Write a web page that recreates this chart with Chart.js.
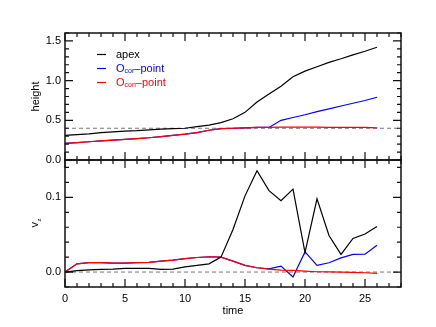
<!DOCTYPE html>
<html>
<head>
<meta charset="utf-8">
<script src="https://cdn.jsdelivr.net/npm/chart.js@4"></script>
<style>
  body { margin: 0; background: #fff; }
  #wrap { position: relative; width: 436px; height: 327px; }
  #wrap canvas { position: absolute; left: 0; top: 0; }
</style>
</head>
<body>
<div id="wrap">
  <canvas id="topChart" width="436" height="327"></canvas>
  <canvas id="bottomChart" width="436" height="327"></canvas>
</div>
<script>
// time steps
const times = [0,1,2,3,4,5,6,7,8,9,10,11,12,13,14,15,16,17,18,19,20,21,22,23,24,25,26];

// top panel: height
const apexHeight = [0.31,0.32,0.33,0.345,0.355,0.365,0.37,0.38,0.39,0.395,0.40,0.42,0.44,0.47,0.52,0.60,0.73,0.83,0.93,1.05,1.12,1.175,1.23,1.275,1.325,1.37,1.42];
const corHeight  = [0.21,0.22,0.23,0.24,0.25,0.26,0.27,0.28,0.295,0.31,0.325,0.345,0.375,0.395,0.40,0.405,0.41,0.41,0.50,0.535,0.57,0.61,0.645,0.68,0.715,0.75,0.79];
const conHeight  = [0.21,0.22,0.23,0.24,0.25,0.26,0.27,0.28,0.295,0.31,0.325,0.345,0.375,0.395,0.40,0.405,0.41,0.41,0.415,0.415,0.415,0.415,0.41,0.41,0.41,0.41,0.405];
const refHeight = 0.40;

// bottom panel: v_z
const apexVz = [0,0.002,0.003,0.0035,0.004,0.005,0.005,0.005,0.0035,0.004,0.007,0.009,0.011,0.020,0.057,0.102,0.1356,0.109,0.0956,0.111,0.026,0.098,0.049,0.0236,0.045,0.051,0.061];
const corVz  = [0,0.011,0.0125,0.0125,0.012,0.012,0.0125,0.013,0.0147,0.016,0.018,0.0195,0.0205,0.020,0.0147,0.0089,0.0058,0.0044,0.008,-0.0067,0.027,0.0089,0.0124,0.019,0.0236,0.024,0.036];
const conVz  = [0,0.011,0.0125,0.0125,0.012,0.012,0.0125,0.013,0.0147,0.016,0.018,0.0195,0.0205,0.020,0.0147,0.0089,0.0058,0.004,0.0027,0.0022,0.0013,0.0004,0.0003,0,-0.0004,-0.0009,-0.0018];
const refVz = 0;

const xRange = [0, 28];

const FONT = 'Liberation Sans, Arial, Helvetica, sans-serif';

function pts(ys) {
  return ys.map((y, i) => ({ x: times[i], y: y }));
}

// lower order is drawn on top
function series(ys, color, order) {
  return { data: pts(ys), borderColor: color, borderWidth: 1.2, pointRadius: 0, fill: false, tension: 0, order: order };
}

function refLine(y) {
  return {
    data: [{ x: xRange[0], y: y }, { x: xRange[1], y: y }],
    borderColor: '#777', borderWidth: 1, borderDash: [4, 3], pointRadius: 0, fill: false, order: 4
  };
}

// frame with inward ticks, drawn from the chart's scales
function framePlugin(yMinor, yMajor, drawLegend, yTitle) {
  return {
    id: 'frame',
    afterDraw(chart) {
      const ctx = chart.ctx;
      const a = chart.chartArea;
      const xs = chart.scales.x, ys = chart.scales.y;
      ctx.save();
      ctx.strokeStyle = '#111';
      ctx.lineWidth = 1.5;
      ctx.strokeRect(a.left, a.top, a.right - a.left, a.bottom - a.top);
      ctx.lineWidth = 1.2;
      ctx.beginPath();
      for (let t = xRange[0]; t <= xRange[1]; t++) {
        const px = xs.getPixelForValue(t);
        const len = t % 5 === 0 ? 8 : 4;
        ctx.moveTo(px, a.bottom); ctx.lineTo(px, a.bottom - len);
        ctx.moveTo(px, a.top); ctx.lineTo(px, a.top + len);
      }
      const n0 = Math.ceil(ys.min / yMinor - 1e-6), n1 = Math.floor(ys.max / yMinor + 1e-6);
      for (let k = n0; k <= n1; k++) {
        const v = k * yMinor;
        const py = ys.getPixelForValue(v);
        const r = v / yMajor;
        const len = Math.abs(r - Math.round(r)) < 1e-6 ? 8 : 4;
        ctx.moveTo(a.left, py); ctx.lineTo(a.left + len, py);
        ctx.moveTo(a.right, py); ctx.lineTo(a.right - len, py);
      }
      ctx.stroke();

      // y title
      ctx.fillStyle = '#000';
      ctx.translate(a.left - 29, (a.top + a.bottom) / 2);
      ctx.rotate(-Math.PI / 2);
      ctx.textBaseline = 'middle';
      if (yTitle === 'height') {
        ctx.textAlign = 'center';
        ctx.font = '11px ' + FONT;
        ctx.fillText('height', 0, 0);
      } else {
        ctx.textAlign = 'left';
        ctx.font = '11px ' + FONT;
        ctx.fillText('v', -4, -1);
        ctx.font = '6px ' + FONT;
        ctx.fillText('z', 2, 3);
      }
      ctx.restore();

      if (drawLegend) {
        const items = [
          { color: '#000', main: 'apex' },
          { color: '#0000ff', main: 'O', sub: 'cor', rest: '\u2013point' },
          { color: '#ff0000', main: 'O', sub: 'con', rest: '\u2013point' }
        ];
        ctx.save();
        ctx.textBaseline = 'middle';
        ctx.textAlign = 'left';
        items.forEach((it, i) => {
          const y = a.top + 21.5 + i * 14;
          const x0 = a.left + 32;
          ctx.strokeStyle = it.color;
          ctx.lineWidth = 1.2;
          ctx.beginPath();
          ctx.moveTo(x0, y); ctx.lineTo(x0 + 9, y);
          ctx.stroke();
          ctx.fillStyle = it.color;
          let x = x0 + 19;
          ctx.font = '11px ' + FONT;
          ctx.fillText(it.main, x, y);
          if (it.sub) {
            x += ctx.measureText(it.main).width;
            ctx.font = '7px ' + FONT;
            ctx.fillText(it.sub, x, y + 3);
            x += ctx.measureText(it.sub).width;
            ctx.font = '11px ' + FONT;
            ctx.fillText(it.rest, x, y);
          }
        });
        ctx.restore();
      }
    }
  };
}

function tickFont() {
  return { family: FONT, size: 11 };
}

// top panel
new Chart(document.getElementById('topChart'), {
  type: 'line',
  data: {
    datasets: [
      refLine(refHeight),
      series(apexHeight, '#000', 1),
      series(corHeight, '#0000ff', 3),
      series(conHeight, '#ff0000', 2)
    ]
  },
  options: {
    responsive: false,
    animation: false,
    layout: { padding: { left: 0, right: 35, top: 33, bottom: 167 } },
    plugins: { legend: { display: false }, tooltip: { enabled: false } },
    scales: {
      x: { type: 'linear', min: xRange[0], max: xRange[1], display: false },
      y: {
        min: 0, max: 1.6,
        grid: { display: false, drawTicks: false, tickLength: 0 },
        border: { display: false },
        ticks: { stepSize: 0.5, includeBounds: false, color: '#000', font: tickFont(), padding: 4,
                 callback: v => v.toFixed(1) },
        afterFit: s => { s.width = 65; }
      }
    }
  },
  plugins: [framePlugin(0.1, 0.5, true, 'height')]
});

// bottom panel
new Chart(document.getElementById('bottomChart'), {
  type: 'line',
  data: {
    datasets: [
      refLine(refVz),
      series(apexVz, '#000', 1),
      series(corVz, '#0000ff', 3),
      series(conVz, '#ff0000', 2)
    ]
  },
  options: {
    responsive: false,
    animation: false,
    layout: { padding: { left: 0, right: 35, top: 160, bottom: 0 } },
    plugins: { legend: { display: false }, tooltip: { enabled: false } },
    scales: {
      x: {
        type: 'linear', min: xRange[0], max: xRange[1],
        grid: { display: false, drawTicks: false, tickLength: 0 },
        border: { display: false },
        ticks: { stepSize: 5, includeBounds: false, color: '#000', font: tickFont(), padding: 5, maxRotation: 0 },
        title: { display: true, text: 'time', color: '#000', font: tickFont(), padding: { top: 2, bottom: 9 } },
        afterFit: s => { s.height = 40; }
      },
      y: {
        min: -0.02, max: 0.15,
        grid: { display: false, drawTicks: false, tickLength: 0 },
        border: { display: false },
        ticks: { stepSize: 0.1, includeBounds: false, color: '#000', font: tickFont(), padding: 4,
                 callback: v => v.toFixed(1) },
        afterFit: s => { s.width = 65; }
      }
    }
  },
  plugins: [framePlugin(0.02, 0.1, false, 'vz')]
});
</script>
</body>
</html>
